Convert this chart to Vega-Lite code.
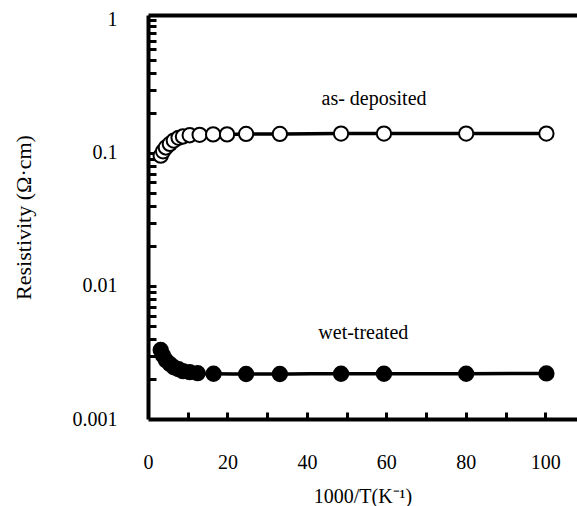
{
  "$schema": "https://vega.github.io/schema/vega-lite/v6.json",
  "width": 429,
  "height": 404,
  "autosize": "none",
  "padding": {"left": 148, "top": 15, "right": 0, "bottom": 87},
  "background": "white",
  "config": {
    "view": {"stroke": null},
    "font": "Liberation Serif",
    "axis": {
      "labelFont": "Liberation Serif",
      "titleFont": "Liberation Serif",
      "labelColor": "black",
      "titleColor": "black",
      "domainColor": "black",
      "tickColor": "black",
      "grid": false,
      "labelFontSize": 20,
      "titleFontSize": 20,
      "titleFontWeight": "normal",
      "labelFlush": false,
      "labelOverlap": false
    }
  },
  "datasets": {
    "series": [
      {"series": "as-deposited", "x": 3.2, "y": 0.0955},
      {"series": "as-deposited", "x": 3.8, "y": 0.103},
      {"series": "as-deposited", "x": 4.5, "y": 0.110},
      {"series": "as-deposited", "x": 5.5, "y": 0.117},
      {"series": "as-deposited", "x": 6.5, "y": 0.124},
      {"series": "as-deposited", "x": 7.7, "y": 0.130},
      {"series": "as-deposited", "x": 8.8, "y": 0.133},
      {"series": "as-deposited", "x": 10.5, "y": 0.136},
      {"series": "as-deposited", "x": 13.0, "y": 0.137},
      {"series": "as-deposited", "x": 16.4, "y": 0.138},
      {"series": "as-deposited", "x": 19.9, "y": 0.138},
      {"series": "as-deposited", "x": 24.7, "y": 0.139},
      {"series": "as-deposited", "x": 33.2, "y": 0.139},
      {"series": "as-deposited", "x": 48.6, "y": 0.140},
      {"series": "as-deposited", "x": 59.4, "y": 0.140},
      {"series": "as-deposited", "x": 80.1, "y": 0.140},
      {"series": "as-deposited", "x": 100.3, "y": 0.140},
      {"series": "wet-treated", "x": 3.2, "y": 0.0033},
      {"series": "wet-treated", "x": 3.8, "y": 0.0030},
      {"series": "wet-treated", "x": 4.5, "y": 0.00277},
      {"series": "wet-treated", "x": 5.5, "y": 0.00259},
      {"series": "wet-treated", "x": 6.5, "y": 0.00245},
      {"series": "wet-treated", "x": 7.7, "y": 0.00237},
      {"series": "wet-treated", "x": 8.8, "y": 0.00229},
      {"series": "wet-treated", "x": 10.5, "y": 0.00225},
      {"series": "wet-treated", "x": 12.5, "y": 0.00221},
      {"series": "wet-treated", "x": 16.5, "y": 0.00219},
      {"series": "wet-treated", "x": 24.7, "y": 0.00218},
      {"series": "wet-treated", "x": 33.2, "y": 0.00218},
      {"series": "wet-treated", "x": 48.6, "y": 0.00219},
      {"series": "wet-treated", "x": 59.4, "y": 0.00219},
      {"series": "wet-treated", "x": 80.1, "y": 0.00219},
      {"series": "wet-treated", "x": 100.3, "y": 0.0022}
    ],
    "labels": [
      {"text": "as- deposited", "x": 56.9, "y": 0.256},
      {"text": "wet-treated", "x": 54.2, "y": 0.0044}
    ]
  },
  "layer": [
    {
      "data": {"name": "series"},
      "mark": {"type": "line", "color": "black", "strokeWidth": 3.5, "interpolate": "monotone"},
      "encoding": {
        "x": {
          "field": "x", "type": "quantitative",
          "scale": {"domain": [0, 108], "nice": false, "zero": false},
          "axis": {
            "orient": "bottom",
            "values": [0, 20, 40, 60, 80, 100],
            "ticks": false,
            "domain": true,
            "domainWidth": 4,
            "labelPadding": 33,
            "title": "1000/T(K⁻¹)",
            "titlePadding": 14
          }
        },
        "y": {
          "field": "y", "type": "quantitative",
          "scale": {"type": "log", "domain": [0.001, 1.09], "nice": false},
          "axis": {
            "orient": "left",
            "values": [0.001, 0.01, 0.1, 1],
            "labelExpr": "datum.value >= 1 ? '1' : datum.value >= 0.1 ? '0.1' : datum.value >= 0.01 ? '0.01' : '0.001'",
            "ticks": false,
            "domain": true,
            "domainWidth": 4,
            "labelPadding": 31,
            "title": "Resistivity (Ω·cm)",
            "titleFontSize": 22,
            "titlePadding": 37
          }
        },
        "detail": {"field": "series", "type": "nominal"}
      }
    },
    {
      "data": {"name": "series"},
      "mark": {"type": "point", "shape": "circle", "size": 205, "stroke": "black", "strokeWidth": 2, "opacity": 1, "filled": false},
      "encoding": {
        "x": {"field": "x", "type": "quantitative", "axis": {"orient": "top", "domain": true, "domainWidth": 4, "ticks": false, "labels": false, "title": null}},
        "y": {"field": "y", "type": "quantitative", "axis": null},
        "fill": {
          "field": "series", "type": "nominal",
          "scale": {"domain": ["as-deposited", "wet-treated"], "range": ["white", "black"]},
          "legend": null
        }
      }
    },
    {
      "data": {"name": "labels"},
      "mark": {"type": "text", "font": "Liberation Serif", "fontSize": 20, "color": "black", "align": "center", "baseline": "middle"},
      "encoding": {
        "x": {
          "field": "x", "type": "quantitative",
          "axis": {
            "orient": "bottom",
            "values": [10, 20, 30, 40, 50, 60, 70, 80, 90, 100],
            "tickSize": -7,
            "tickWidth": 3,
            "labels": false,
            "domain": false,
            "title": null
          }
        },
        "y": {
          "field": "y", "type": "quantitative",
          "axis": {
            "orient": "left",
            "values": [0.002, 0.003, 0.004, 0.005, 0.006, 0.007, 0.008, 0.009, 0.01, 0.02, 0.03, 0.04, 0.05, 0.06, 0.07, 0.08, 0.09, 0.1, 0.2, 0.3, 0.4, 0.5, 0.6, 0.7, 0.8, 0.9, 1],
            "tickSize": -8,
            "tickWidth": 3,
            "labels": false,
            "domain": false,
            "title": null
          }
        },
        "text": {"field": "text", "type": "nominal"}
      }
    }
  ],
  "resolve": {"axis": {"x": "independent", "y": "independent"}}
}
